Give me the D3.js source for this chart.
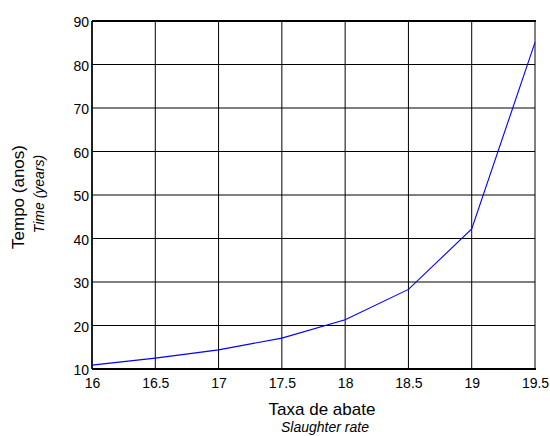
<!DOCTYPE html>
<html>
<head>
<meta charset="utf-8">
<script src="https://cdn.jsdelivr.net/npm/d3@7"></script>
<style>
  html, body { margin: 0; padding: 0; background: #fff; }
  svg { display: block; font-family: "Liberation Sans", Arial, sans-serif; }
</style>
</head>
<body>
<svg id="chart" width="550" height="436"></svg>
<script>
// Slaughter rate vs. time to reach the target
const rates = [16, 16.5, 17, 17.5, 18, 18.5, 19, 19.5];
const years = [10.9, 12.5, 14.4, 17.1, 21.3, 28.3, 42.2, 85.1];
const xTicks = [16, 16.5, 17, 17.5, 18, 18.5, 19, 19.5];
const yTicks = [10, 20, 30, 40, 50, 60, 70, 80, 90];

const svg = d3.select("#chart");
const m = { left: 92, right: 535, top: 21, bottom: 369 };

const x = d3.scaleLinear().domain([16, 19.5]).range([m.left, m.right]);
const y = d3.scaleLinear().domain([10, 90]).range([m.bottom, m.top]);

// grid
const grid = svg.append("g");
grid.selectAll("line.vx").data(xTicks).join("line")
  .attr("x1", d => x(d)).attr("x2", d => x(d))
  .attr("y1", m.top).attr("y2", m.bottom)
  .attr("stroke", "#000").attr("stroke-width", 1);
grid.selectAll("line.hy").data(yTicks).join("line")
  .attr("x1", m.left).attr("x2", m.right)
  .attr("y1", d => y(d)).attr("y2", d => y(d))
  .attr("stroke", "#000").attr("stroke-width", 1);

// frame
svg.append("line").attr("x1", m.left).attr("x2", m.right + 1)
  .attr("y1", m.top).attr("y2", m.top).attr("stroke", "#000").attr("stroke-width", 2);
svg.append("line").attr("x1", m.left).attr("x2", m.right + 1)
  .attr("y1", m.bottom).attr("y2", m.bottom).attr("stroke", "#000").attr("stroke-width", 2);
svg.append("line").attr("x1", m.left).attr("x2", m.left)
  .attr("y1", m.top).attr("y2", m.bottom).attr("stroke", "#000").attr("stroke-width", 1.5);

// tick labels via d3 axes (tick marks hidden, only text)
const xAxis = svg.append("g").attr("transform", `translate(0,${m.bottom})`)
  .call(d3.axisBottom(x).tickValues(xTicks).tickSize(0).tickPadding(9).tickFormat(d3.format("")));
const yAxis = svg.append("g").attr("transform", `translate(${m.left},0)`)
  .call(d3.axisLeft(y).tickValues(yTicks).tickSize(0).tickPadding(3).tickFormat(d3.format("d")));
[xAxis, yAxis].forEach(a => {
  a.select(".domain").remove();
  a.selectAll("text").attr("font-size", 14).attr("fill", "#000")
    .attr("font-family", "Liberation Sans, Arial, sans-serif");
});
yAxis.selectAll("text").attr("dy", "0.4em");

// series line
svg.append("path")
  .datum(rates.map((r, i) => [r, years[i]]))
  .attr("fill", "none").attr("stroke", "#0000ff").attr("stroke-width", 1.1)
  .attr("d", d3.line().x(d => x(d[0])).y(d => y(d[1])));

// axis titles
svg.append("text").attr("x", 322).attr("y", 415).attr("text-anchor", "middle")
  .attr("font-size", 17).text("Taxa de abate");
svg.append("text").attr("x", 325).attr("y", 432).attr("text-anchor", "middle")
  .attr("font-size", 14).attr("font-style", "italic").text("Slaughter rate");
svg.append("text").attr("transform", "translate(24,197) rotate(-90)").attr("text-anchor", "middle")
  .attr("font-size", 17).text("Tempo (anos)");
svg.append("text").attr("transform", "translate(44,194) rotate(-90)").attr("text-anchor", "middle")
  .attr("font-size", 14).attr("font-style", "italic").text("Time (years)");
</script>
</body>
</html>
